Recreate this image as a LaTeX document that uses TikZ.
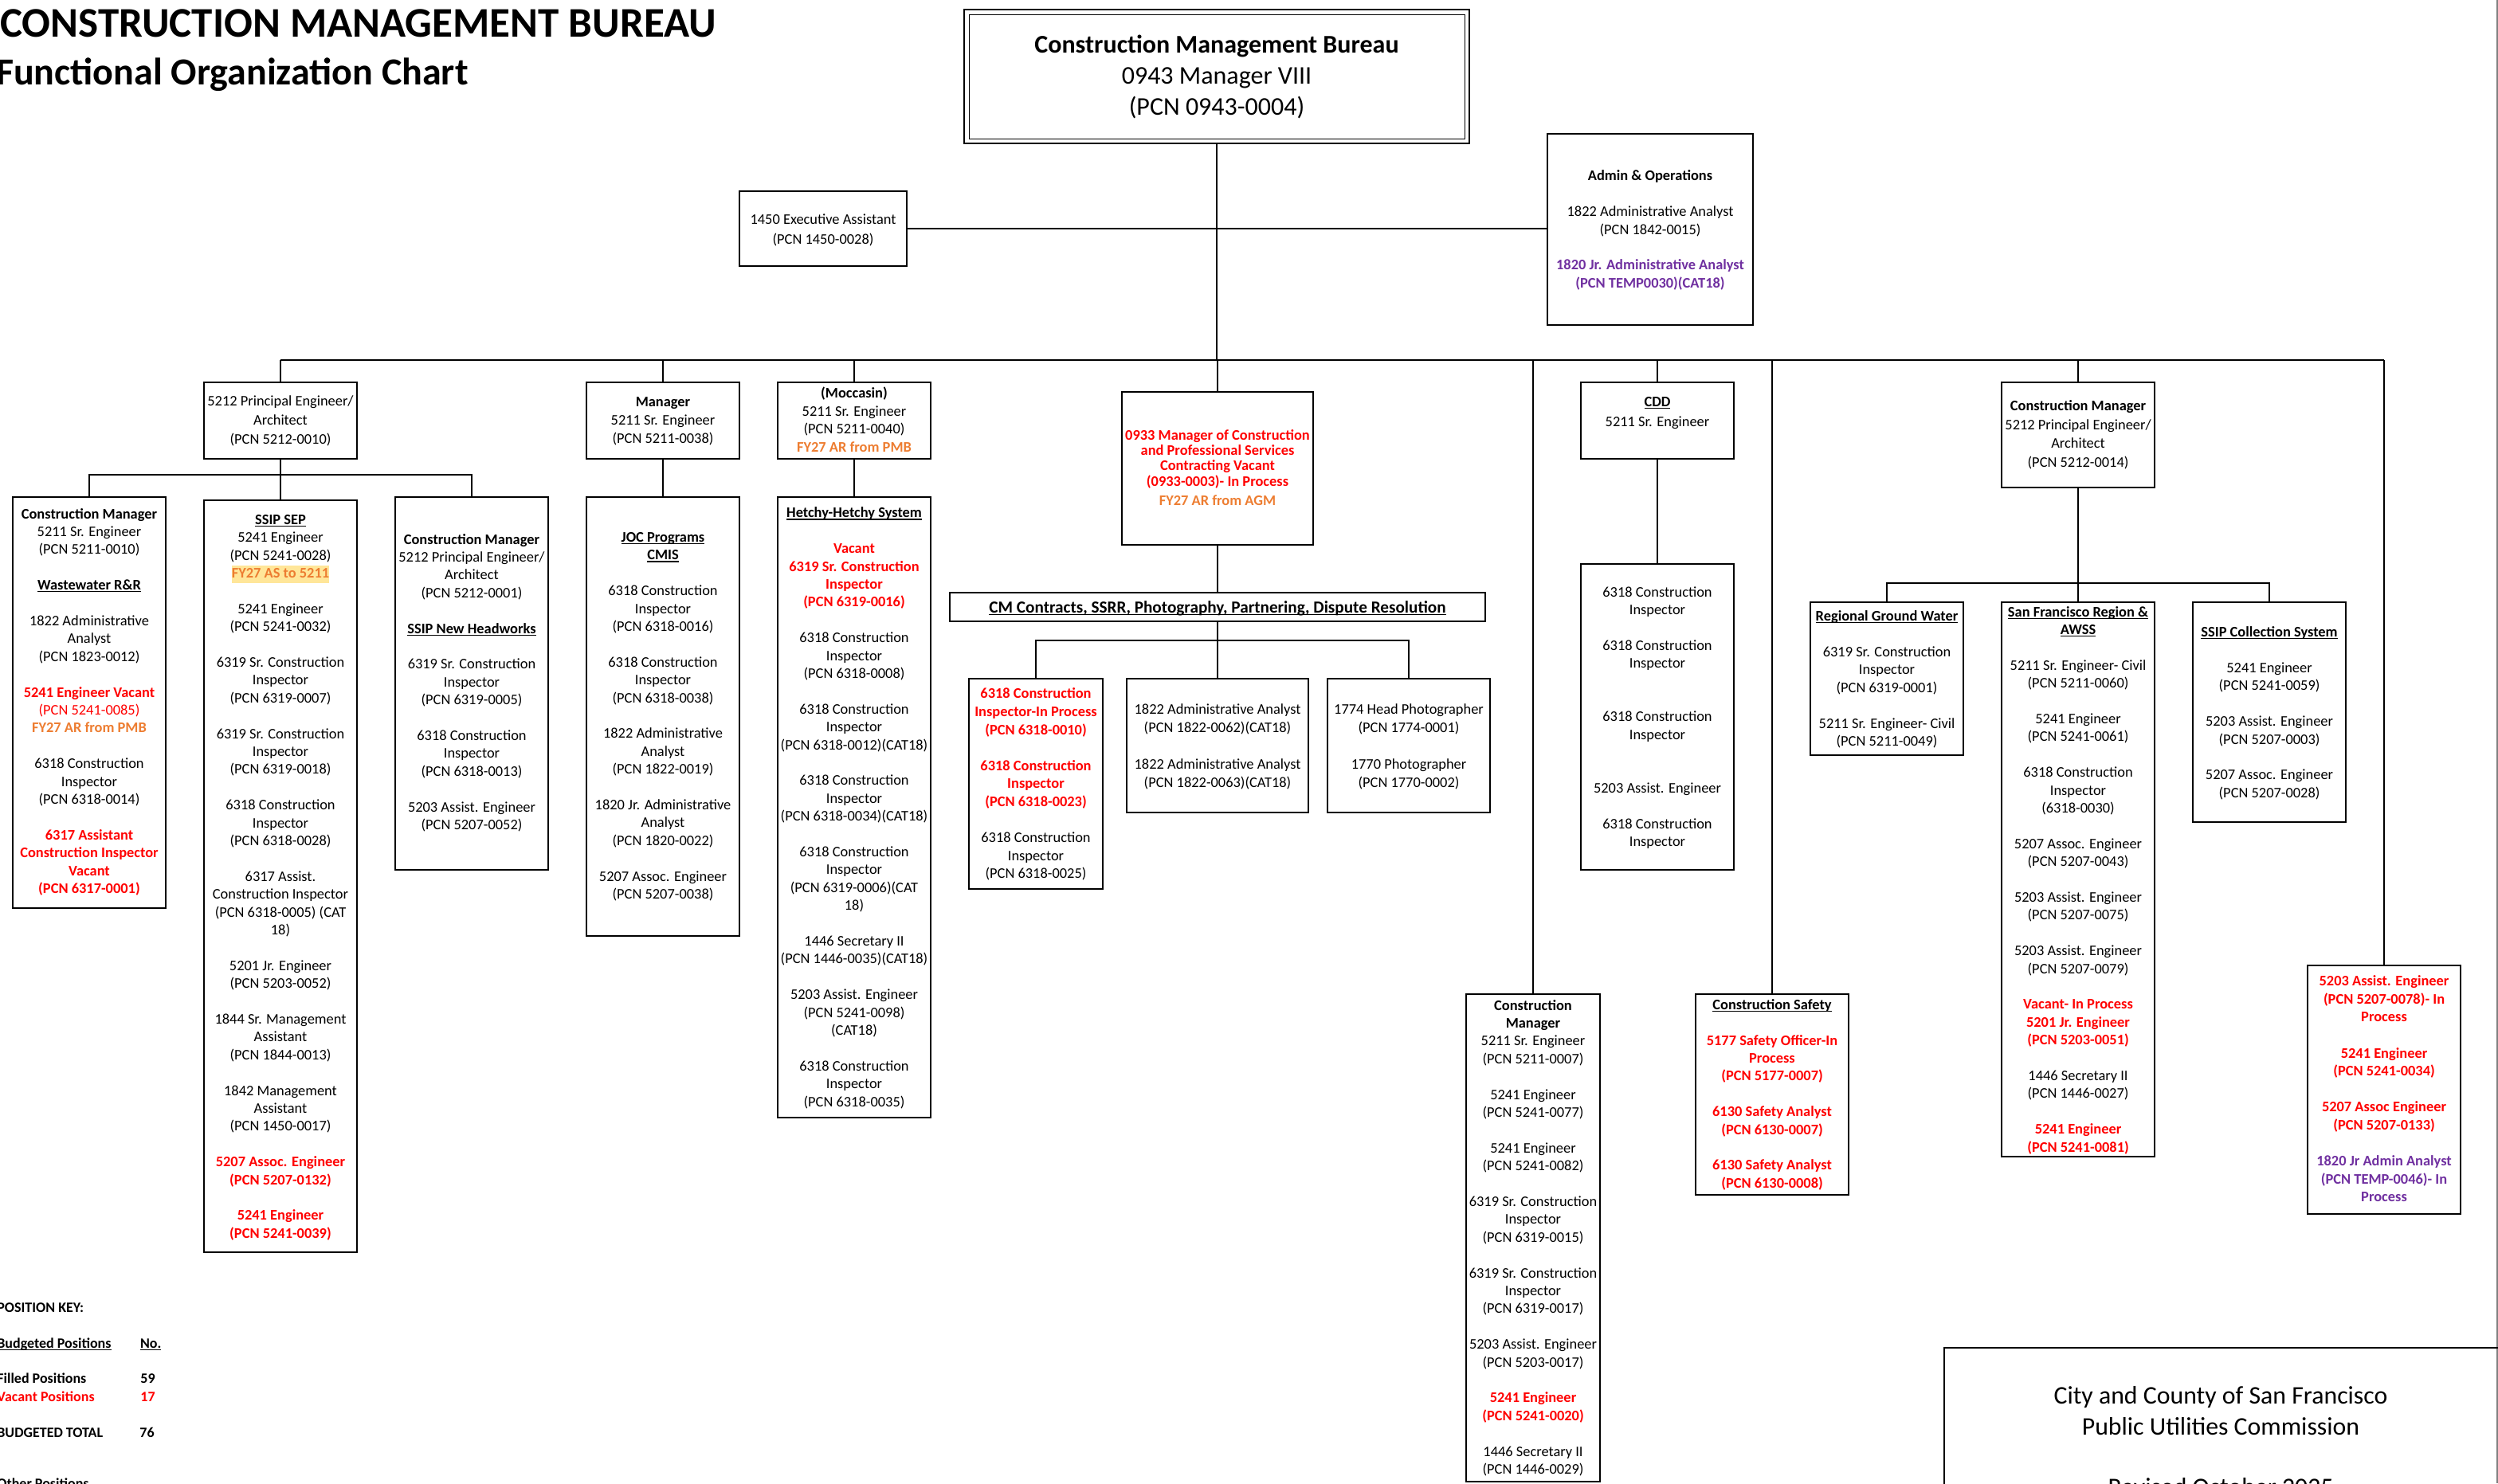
\documentclass[tikz,border=0pt]{standalone}
\usepackage{fontspec}
\setmainfont{Carlito}
\definecolor{cred}{RGB}{255,0,0}
\definecolor{corg}{RGB}{237,125,49}
\definecolor{cpur}{RGB}{112,48,160}
\definecolor{chl}{RGB}{255,230,153}
\newsavebox{\ulbox}
\newcommand{\ulx}[1]{\sbox\ulbox{#1}\rlap{\rule[-1.4pt]{\wd\ulbox}{0.6pt}}\usebox\ulbox}
\newcommand{\redb}[1]{\textcolor{cred}{\textbf{#1}}}
\newcommand{\orgb}[1]{\textcolor{corg}{\textbf{#1}}}
\newcommand{\purb}[1]{\textcolor{cpur}{\textbf{#1}}}
\newcommand{\hdr}[1]{\ulx{\textbf{#1}}}
\newcommand{\mkbox}[5]{\node[box, anchor=north west, minimum width={(#4-#2)*1pt}, minimum height={(#5-#3)*1pt}] (#1) at (#2,#3) {};}
\tikzset{
  box/.style={draw, line width=0.9pt, inner sep=0pt, outer sep=0pt},
  txt/.style={align=center, inner sep=0pt, anchor=north, font=\fontsize{9.2}{11.2}\selectfont},
  ln/.style={line width=0.9pt},
  keyt/.style={inner sep=0pt, anchor=base west, font=\fontsize{9}{11}\selectfont\bfseries},
}
\begin{document}
\begin{tikzpicture}[x=1pt,y=-1pt]
\useasboundingbox (0,0) rectangle (1567.5,931);
% right edge frame line
\draw[gray, line width=0.6pt] (1567,0) -- (1567,931);
% titles
\node[inner sep=0pt, anchor=base east, font=\fontsize{26.5}{30}\selectfont\bfseries] (title1) at (449.7,23.5) {CONSTRUCTION MANAGEMENT BUREAU};
\node[inner sep=0pt, anchor=base east, font=\fontsize{24}{28}\selectfont\bfseries] (title2) at (294,53.5) {Functional Organization Chart};
% top box
\mkbox{topo}{605}{6}{922}{90}
\node[draw, line width=0.6pt, inner sep=0pt, anchor=north west, minimum width=311pt, minimum height=78pt] (topi) at (608,9) {};
\node[align=center, inner sep=0pt, anchor=north, font=\fontsize{16}{19.5}\selectfont] (topt) at (763.5,19.5) {\strut\textbf{Construction Management Bureau}\\0943 Manager VIII\\(PCN 0943-0004)};
% exec & admin
\mkbox{exec}{464}{120}{569}{167}
\node[txt, font=\fontsize{9.2}{12.5}\selectfont] (exect) at (516.5,132) {\strut 1450 Executive Assistant\\(PCN 1450-0028)};
\mkbox{admin}{971}{84}{1100}{204}
\node[txt] (admint) at (1035.5,105.4) {\strut\textbf{Admin \& Operations}\\[11.2pt]1822 Administrative Analyst\\(PCN 1842-0015)\\[11.2pt]\purb{1820 Jr. Administrative Analyst}\\\purb{(PCN TEMP0030)(CAT18)}};
% level 2 boxes
\mkbox{p212}{128}{240}{224}{288}
\node[txt, font=\fontsize{9.2}{11.8}\selectfont] (p212t) at (176,246.5) {\strut 5212 Principal Engineer/\\Architect\\(PCN 5212-0010)};
\mkbox{mgr}{368}{240}{464}{288}
\node[txt, font=\fontsize{9.2}{11.6}\selectfont] (mgrt) at (416,246.8) {\strut\textbf{Manager}\\5211 Sr. Engineer\\(PCN 5211-0038)};
\mkbox{moc}{488}{240}{584}{288}
\node[txt] (moct) at (536,241.9) {\strut\textbf{(Moccasin)}\\5211 Sr. Engineer\\(PCN 5211-0040)\\\orgb{FY27 AR from PMB}};
\mkbox{m0933}{704}{246}{824}{342}
\node[txt, font=\fontsize{9.2}{9.7}\selectfont] (m0933t) at (764,269.1) {\strut\redb{0933 Manager of Construction}\\\redb{and Professional Services}\\\redb{Contracting Vacant}\\\redb{(0933-0003)- In Process}\\[2.3pt]\orgb{FY27 AR from AGM}};
\mkbox{cdd}{992}{240}{1088}{288}
\node[txt, font=\fontsize{9.2}{12.3}\selectfont] (cddt) at (1040,246.4) {\strut\hdr{CDD}\\5211 Sr. Engineer};
\mkbox{cm14}{1256}{240}{1352}{306}
\node[txt, font=\fontsize{9.2}{11.7}\selectfont] (cm14t) at (1304,249.6) {\strut\textbf{Construction Manager}\\5212 Principal Engineer/\\Architect\\(PCN 5212-0014)};
% left group
\mkbox{boxA}{8}{312}{104}{570}
\node[txt] (boxAt) at (56,317.5) {\strut\textbf{Construction Manager}\\5211 Sr. Engineer\\(PCN 5211-0010)\\[11.2pt]\hdr{Wastewater R\&R}\\[11.2pt]1822 Administrative\\Analyst\\(PCN 1823-0012)\\[11.2pt]\redb{5241 Engineer Vacant}\\\textcolor{cred}{(PCN 5241-0085)}\\\orgb{FY27 AR from PMB}\\[11.2pt]6318 Construction\\Inspector\\(PCN 6318-0014)\\[11.2pt]\redb{6317 Assistant}\\\redb{Construction Inspector}\\\redb{Vacant}\\\redb{(PCN 6317-0001)}};
\mkbox{boxB}{128}{314}{224}{786}
\node[txt] (boxBt) at (176,321.1) {\strut\hdr{SSIP SEP}\\5241 Engineer\\(PCN 5241-0028)\\{\setlength\fboxsep{0pt}\colorbox{chl}{\strut\orgb{FY27 AS to 5211}}}\\[11.2pt]5241 Engineer\\(PCN 5241-0032)\\[11.2pt]6319 Sr. Construction\\Inspector\\(PCN 6319-0007)\\[11.2pt]6319 Sr. Construction\\Inspector\\(PCN 6319-0018)\\[11.2pt]6318 Construction\\Inspector\\(PCN 6318-0028)\\[11.2pt]6317 Assist.\\Construction Inspector\\(PCN 6318-0005) (CAT\\18)\\[11.2pt]5201 Jr. Engineer\\(PCN 5203-0052)\\[11.2pt]1844 Sr. Management\\Assistant\\(PCN 1844-0013)\\[11.2pt]1842 Management\\Assistant\\(PCN 1450-0017)\\[11.2pt]\redb{5207 Assoc. Engineer}\\\redb{(PCN 5207-0132)}\\[11.2pt]\redb{5241 Engineer}\\\redb{(PCN 5241-0039)}};
\mkbox{boxC}{248}{312}{344}{546}
\node[txt] (boxCt) at (296,333.5) {\strut\textbf{Construction Manager}\\5212 Principal Engineer/\\Architect\\(PCN 5212-0001)\\[11.2pt]\hdr{SSIP New Headworks}\\[11.2pt]6319 Sr. Construction\\Inspector\\(PCN 6319-0005)\\[11.2pt]6318 Construction\\Inspector\\(PCN 6318-0013)\\[11.2pt]5203 Assist. Engineer\\(PCN 5207-0052)};
% JOC
\mkbox{joc}{368}{312}{464}{587.5}
\node[txt] (joct) at (416,332.2) {\strut\hdr{JOC Programs}\\\hdr{CMIS}\\[11.2pt]6318 Construction\\Inspector\\(PCN 6318-0016)\\[11.2pt]6318 Construction\\Inspector\\(PCN 6318-0038)\\[11.2pt]1822 Administrative\\Analyst\\(PCN 1822-0019)\\[11.2pt]1820 Jr. Administrative\\Analyst\\(PCN 1820-0022)\\[11.2pt]5207 Assoc. Engineer\\(PCN 5207-0038)};
% Hetchy
\mkbox{het}{488}{312}{584}{701.4}
\node[txt] (hett) at (536,316.9) {\strut\hdr{Hetchy-Hetchy System}\\[11.2pt]\redb{Vacant}\\\redb{6319 Sr. Construction}\\\redb{Inspector}\\\redb{(PCN 6319-0016)}\\[11.2pt]6318 Construction\\Inspector\\(PCN 6318-0008)\\[11.2pt]6318 Construction\\Inspector\\(PCN 6318-0012)(CAT18)\\[11.2pt]6318 Construction\\Inspector\\(PCN 6318-0034)(CAT18)\\[11.2pt]6318 Construction\\Inspector\\(PCN 6319-0006)(CAT\\18)\\[11.2pt]1446 Secretary II\\(PCN 1446-0035)(CAT18)\\[11.2pt]5203 Assist. Engineer\\(PCN 5241-0098)\\(CAT18)\\[11.2pt]6318 Construction\\Inspector\\(PCN 6318-0035)};
% CM contracts
\mkbox{cmbar}{596}{372}{932}{390}
\node[inner sep=0pt, anchor=base, font=\fontsize{10.6}{12}\selectfont] (cmbart) at (764,384.6) {\hdr{CM Contracts, SSRR, Photography, Partnering, Dispute Resolution}};
\mkbox{red1}{608}{426}{692}{558}
\node[txt, font=\fontsize{9.2}{11.3}\selectfont] (red1t) at (650,430.35) {\strut\redb{6318 Construction}\\\redb{Inspector-In Process}\\\redb{(PCN 6318-0010)}\\[11.3pt]\redb{6318 Construction}\\\redb{Inspector}\\\redb{(PCN 6318-0023)}\\[11.3pt]6318 Construction\\Inspector\\(PCN 6318-0025)};
\mkbox{aa}{707}{426}{821}{510}
\node[txt, font=\fontsize{9.2}{11.5}\selectfont] (aat) at (764,439.8) {\strut 1822 Administrative Analyst\\(PCN 1822-0062)(CAT18)\\[11.5pt]1822 Administrative Analyst\\(PCN 1822-0063)(CAT18)};
\mkbox{ph}{833}{426}{935}{510}
\node[txt, font=\fontsize{9.2}{11.5}\selectfont] (pht) at (884,439.8) {\strut 1774 Head Photographer\\(PCN 1774-0001)\\[11.5pt]1770 Photographer\\(PCN 1770-0002)};
% CDD sub
\mkbox{cddsub}{992}{354}{1088}{546}
\node[txt] (cddsubt) at (1040,366.5) {\strut 6318 Construction\\Inspector\\[11.2pt]6318 Construction\\Inspector\\[22.4pt]6318 Construction\\Inspector\\[22.4pt]5203 Assist. Engineer\\[11.2pt]6318 Construction\\Inspector};
% CM bottom
\mkbox{cmb}{920}{624}{1004}{930}
\node[txt] (cmbt) at (962,626) {\strut\textbf{Construction}\\\textbf{Manager}\\5211 Sr. Engineer\\(PCN 5211-0007)\\[11.2pt]5241 Engineer\\(PCN 5241-0077)\\[11.2pt]5241 Engineer\\(PCN 5241-0082)\\[11.2pt]6319 Sr. Construction\\Inspector\\(PCN 6319-0015)\\[11.2pt]6319 Sr. Construction\\Inspector\\(PCN 6319-0017)\\[11.2pt]5203 Assist. Engineer\\(PCN 5203-0017)\\[11.2pt]\redb{5241 Engineer}\\\redb{(PCN 5241-0020)}\\[11.2pt]1446 Secretary II\\(PCN 1446-0029)};
% Safety
\mkbox{saf}{1064}{624}{1160}{750}
\node[txt] (saft) at (1112,625.6) {\strut\hdr{Construction Safety}\\[11.2pt]\redb{5177 Safety Officer-In}\\\redb{Process}\\\redb{(PCN 5177-0007)}\\[11.2pt]\redb{6130 Safety Analyst}\\\redb{(PCN 6130-0007)}\\[11.2pt]\redb{6130 Safety Analyst}\\\redb{(PCN 6130-0008)}};
% right group
\mkbox{rgw}{1136}{378}{1232}{474}
\node[txt] (rgwt) at (1184,381.8) {\strut\hdr{Regional Ground Water}\\[11.2pt]6319 Sr. Construction\\Inspector\\(PCN 6319-0001)\\[11.2pt]5211 Sr. Engineer- Civil\\(PCN 5211-0049)};
\mkbox{sfr}{1256}{378}{1352}{726}
\node[txt] (sfrt) at (1304,379) {\strut\hdr{San Francisco Region \&}\\\hdr{AWSS}\\[11.2pt]5211 Sr. Engineer- Civil\\(PCN 5211-0060)\\[11.2pt]5241 Engineer\\(PCN 5241-0061)\\[11.2pt]6318 Construction\\Inspector\\(6318-0030)\\[11.2pt]5207 Assoc. Engineer\\(PCN 5207-0043)\\[11.2pt]5203 Assist. Engineer\\(PCN 5207-0075)\\[11.2pt]5203 Assist. Engineer\\(PCN 5207-0079)\\[11.2pt]\redb{Vacant- In Process}\\\redb{5201 Jr. Engineer}\\\redb{(PCN 5203-0051)}\\[11.2pt]1446 Secretary II\\(PCN 1446-0027)\\[11.2pt]\redb{5241 Engineer}\\\redb{(PCN 5241-0081)}};
\mkbox{ssipc}{1376}{378}{1472}{516}
\node[txt] (ssipct) at (1424,391.8) {\strut\hdr{SSIP Collection System}\\[11.2pt]5241 Engineer\\(PCN 5241-0059)\\[11.2pt]5203 Assist. Engineer\\(PCN 5207-0003)\\[11.2pt]5207 Assoc. Engineer\\(PCN 5207-0028)};
\mkbox{redR}{1448}{606}{1544}{762}
\node[txt, font=\fontsize{9.2}{11.3}\selectfont] (redRt) at (1496,610.75) {\strut\redb{5203 Assist. Engineer}\\\redb{(PCN 5207-0078)- In}\\\redb{Process}\\[11.3pt]\redb{5241 Engineer}\\\redb{(PCN 5241-0034)}\\[11.3pt]\redb{5207 Assoc Engineer}\\\redb{(PCN 5207-0133)}\\[11.3pt]\purb{1820 Jr Admin Analyst}\\\purb{(PCN TEMP-0046)- In}\\\purb{Process}};
% PUC box
\mkbox{puc}{1220}{846}{1640}{1000}
\node[align=center, inner sep=0pt, anchor=north, font=\fontsize{15.9}{19.7}\selectfont] (puct) at (1393.5,867.1) {\strut City and County of San Francisco\\Public Utilities Commission};
\node[inner sep=0pt, anchor=base, font=\fontsize{15.9}{19.7}\selectfont] (revt) at (1393.5,938.5) {Revised October 2025};
% key
\node[keyt] (k1) at (-2,823.7) {POSITION KEY:};
\node[keyt] (k2) at (-2,846) {\ulx{Budgeted Positions}};
\node[keyt] (k2n) at (87.8,846) {\ulx{No.}};
\node[keyt] (k3) at (-2,868.4) {Filled Positions};
\node[keyt] (k3n) at (88,868.4) {59};
\node[keyt, text=cred] (k4) at (-2,879.6) {Vacant Positions};
\node[keyt, text=cred] (k4n) at (88,879.6) {17};
\node[keyt] (k5) at (-2,902.2) {BUDGETED TOTAL};
\node[keyt] (k5n) at (87.5,902.2) {76};
\node[keyt] (k6) at (-2,934.3) {Other Positions};
% connectors
\coordinate (busL) at (176,226);
\coordinate (busR) at (1496,226);
\draw[ln] (busL) -- (busR);
\draw[ln] (topo.south) -- (topo.south |- busL);
\draw[ln] (exec.east) -- (exec.east -| admin.west);
\foreach \n in {p212,mgr,moc,m0933,cdd,cm14,cmb,saf,redR}
  \draw[ln] (\n.north) -- (\n.north |- busL);
\coordinate (busA) at (176,298);
\draw[ln] (p212.south) -- (boxB.north);
\draw[ln] (boxA.north) |- (busA) -| (boxC.north);
\draw[ln] (mgr.south) -- (joc.north);
\draw[ln] (moc.south) -- (het.north);
\draw[ln] (m0933.south) -- (cmbar.north);
\coordinate (busCM) at (764,402);
\draw[ln] (cmbar.south) -- (aa.north);
\draw[ln] (red1.north) |- (busCM) -| (ph.north);
\draw[ln] (cdd.south) -- (cddsub.north);
\coordinate (busR2) at (1304,366);
\draw[ln] (cm14.south) -- (sfr.north);
\draw[ln] (rgw.north) |- (busR2) -| (ssipc.north);
\end{tikzpicture}
\end{document}
